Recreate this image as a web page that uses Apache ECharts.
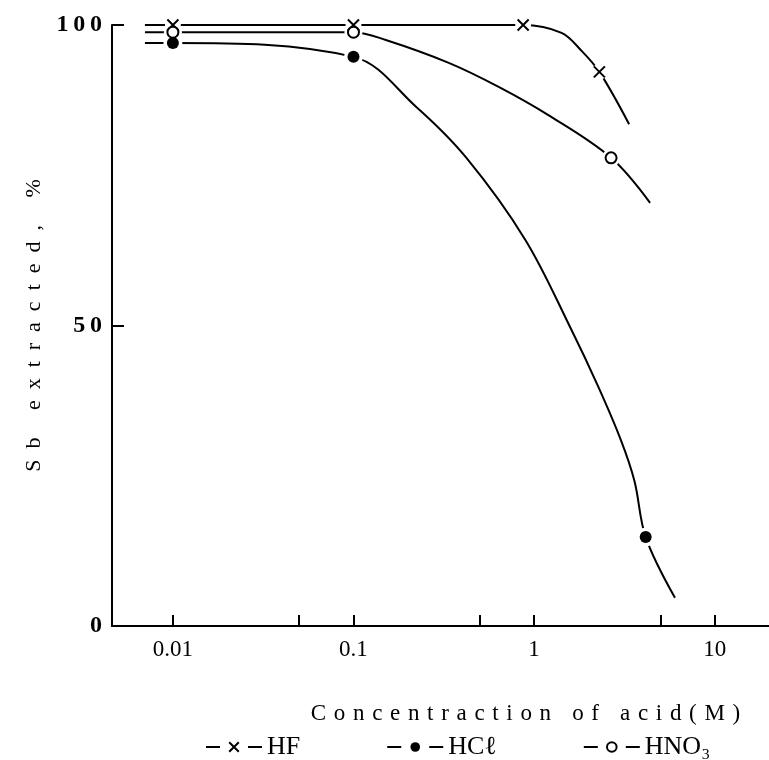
<!DOCTYPE html>
<html>
<head>
<meta charset="utf-8">
<script src="https://cdn.jsdelivr.net/npm/echarts@6/dist/echarts.min.js"></script>
<style>
  html, body { margin: 0; padding: 0; background: #fff; }
  #chart { width: 769px; height: 760px; }
</style>
</head>
<body>
<div id="chart"></div>
<script>
var chart = echarts.init(document.getElementById('chart'));

// values (concentration in M, % extracted)
// mark = 1 where the figure draws a symbol, 0 for points along the drawn curve
var hfConc = [0.007, 0.01, 0.1, 0.87, 1.42, 1.82, 2.3, 3.36];
var hfVal = [100, 100, 100, 100, 98.7, 95.8, 92.2, 83.5];
var hfMark = [0, 1, 1, 1, 0, 0, 1, 0];

var hclConc = [0.007, 0.01, 0.1, 0.222, 0.419, 0.897, 1.61, 2.27, 3.03, 3.6, 4.15, 6.03];
var hclVal = [97.0, 97.0, 94.7, 86.4, 78.0, 64.2, 49.3, 39.8, 30.9, 24.1, 14.8, 4.7];
var hclMark = [0, 1, 1, 0, 0, 0, 0, 0, 0, 0, 1, 0];

var hno3Conc = [0.007, 0.01, 0.1, 0.151, 0.337, 0.637, 1.2, 2.67, 4.39];
var hno3Val = [98.8, 98.8, 98.8, 97.5, 93.7, 89.7, 85.0, 77.9, 70.4];
var hno3Mark = [0, 1, 1, 0, 0, 0, 0, 1, 0];

var xTicks = [0.01, 0.05, 0.1, 0.5, 1, 5, 10];
var xLabels = [0.01, 0.1, 1, 10];

var serif = '"Liberation Serif", "DejaVu Serif", serif';

function spaced(s, sep) {
  return s.split('').join(sep);
}

function build(conc, val, mark) {
  return conc.map(function (c, i) {
    var item = { value: [c, val[i]] };
    if (!mark[i]) item.symbol = 'none';
    return item;
  });
}

function marks(conc, val, mark) {
  var out = [];
  conc.forEach(function (c, i) {
    if (mark[i]) out.push([c, val[i]]);
  });
  return out;
}

var crossPath = 'path://M0,0L10,10M0,10L10,0';

// white discs under the symbols, so lines stop short of them as in the print
function halo(conc, val, mark, size) {
  return {
    type: 'scatter', symbol: 'circle', symbolSize: size, silent: true,
    itemStyle: { color: '#fff', opacity: 1 },
    data: marks(conc, val, mark), z: 4
  };
}

var option = {
  animation: false,
  backgroundColor: '#fff',
  grid: { left: 112, right: 0, top: 25, bottom: 134 },
  legend: {
    left: 200,
    top: 729,
    itemWidth: 56,
    itemHeight: 12,
    itemGap: 86,
    lineStyle: { type: [14, 28] },
    textStyle: { fontFamily: serif, fontSize: 26, color: '#000' },
    data: ['HF', 'HCℓ', 'HNO\u2083']
  },
  xAxis: {
    type: 'log',
    logBase: 10,
    min: 0.0046,
    max: 20,
    name: spaced('Concentraction of acid(M)', '\u2004'),
    nameLocation: 'middle',
    nameGap: 76,
    nameTextStyle: { fontFamily: serif, fontSize: 23, color: '#000', padding: [0, 0, 0, 170] },
    axisLine: { lineStyle: { color: '#000', width: 2 } },
    axisTick: { inside: true, length: 11, lineStyle: { color: '#000', width: 2 }, customValues: xTicks },
    axisLabel: {
      customValues: xLabels,
      fontFamily: serif, fontSize: 23, color: '#000', margin: 12,
      formatter: function (v) { return String(Number(Number(v).toPrecision(3))); }
    },
    splitLine: { show: false },
    minorTick: { show: false }
  },
  yAxis: {
    type: 'value',
    min: 0,
    max: 100,
    interval: 50,
    name: spaced('Sb extracted, %', '\u2002'),
    nameLocation: 'middle',
    nameGap: 66,
    nameTextStyle: { fontFamily: serif, fontSize: 22, color: '#000' },
    axisLine: { show: true, lineStyle: { color: '#000', width: 2 } },
    axisTick: { show: true, inside: true, length: 12, lineStyle: { color: '#000', width: 2 } },
    axisLabel: {
      fontFamily: serif, fontSize: 24, fontWeight: 'bold', color: '#000', margin: 10,
      formatter: function (v) { return spaced(String(v), '\u2009'); }
    },
    splitLine: { show: false }
  },
  series: [
    {
      name: 'HF',
      type: 'line',
      smooth: 0.35,
      symbol: crossPath,
      symbolSize: 11,
      lineStyle: { color: '#000', width: 2 },
      itemStyle: { color: '#000', borderColor: '#000', borderWidth: 2 },
      data: build(hfConc, hfVal, hfMark),
      z: 3
    },
    {
      name: 'HCℓ',
      type: 'line',
      smooth: 0.35,
      symbol: 'circle',
      symbolSize: 12,
      lineStyle: { color: '#000', width: 2 },
      itemStyle: { color: '#000', borderColor: '#000' },
      data: build(hclConc, hclVal, hclMark),
      z: 3
    },
    {
      name: 'HNO\u2083',
      type: 'line',
      smooth: 0.35,
      symbol: 'emptyCircle',
      symbolSize: 11,
      lineStyle: { color: '#000', width: 2 },
      itemStyle: { color: '#000', borderColor: '#000', borderWidth: 1.5 },
      data: build(hno3Conc, hno3Val, hno3Mark),
      z: 3
    },
    halo(hfConc, hfVal, hfMark, 16),
    halo(hclConc, hclVal, hclMark, 19),
    halo(hno3Conc, hno3Val, hno3Mark, 18),
    {
      type: 'scatter', symbol: crossPath, symbolSize: 11, silent: true,
      itemStyle: { color: '#000', borderColor: '#000', borderWidth: 2, opacity: 1 },
      data: marks(hfConc, hfVal, hfMark), z: 5
    },
    {
      type: 'scatter', symbol: 'circle', symbolSize: 12, silent: true,
      itemStyle: { color: '#000', opacity: 1 },
      data: marks(hclConc, hclVal, hclMark), z: 5
    },
    {
      type: 'scatter', symbol: 'emptyCircle', symbolSize: 11, silent: true,
      itemStyle: { color: '#000', borderColor: '#000', borderWidth: 1.5, opacity: 1 },
      data: marks(hno3Conc, hno3Val, hno3Mark), z: 5
    }
  ]
};

chart.setOption(option);
</script>
</body>
</html>
